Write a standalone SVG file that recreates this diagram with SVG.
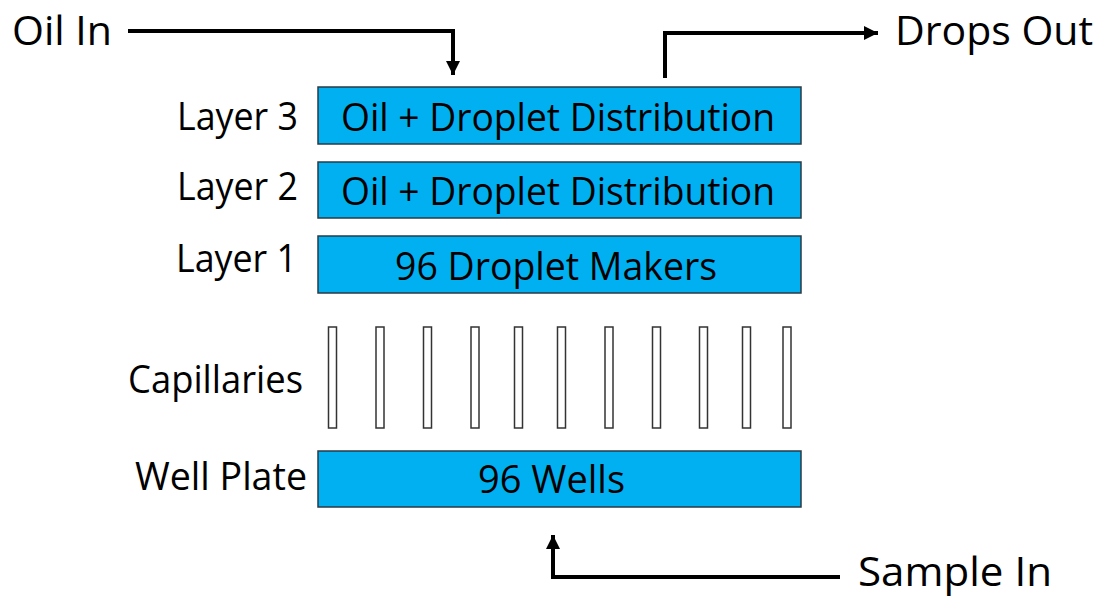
<svg xmlns="http://www.w3.org/2000/svg" width="1108" height="598" viewBox="0 0 1108 598">
<style>
.box{fill:#00B0F0;stroke:#2b3a46;stroke-width:1.5}
.cap{fill:#fff;stroke:#333;stroke-width:1.5}
text{font-family:"Open Sans","Noto Sans",sans-serif;fill:#000}
.big{font-size:41px}
.mid{font-size:38px}
.wire{fill:none;stroke:#000;stroke-width:4}
</style>
<defs>
<marker id="ah" viewBox="0 0 10 10" refX="10" refY="5" markerWidth="14" markerHeight="14" markerUnits="userSpaceOnUse" orient="auto">
<path d="M0,0 L10,5 L0,10 Z" fill="#000"/>
</marker>
</defs>
<rect width="1108" height="598" fill="#fff"/>
<g id="connectors">
<path class="wire" d="M128,31 H453 V75" marker-end="url(#ah)"/>
<path class="wire" d="M665,78 V33 H878" marker-end="url(#ah)"/>
<path class="wire" d="M840,577 H553 V535" marker-end="url(#ah)"/>
</g>
<g id="oil-in"><text class="big" x="12" y="45" textLength="100" lengthAdjust="spacingAndGlyphs">Oil In</text></g>
<g id="drops-out"><text class="big" x="895" y="45" textLength="198" lengthAdjust="spacingAndGlyphs">Drops Out</text></g>
<g id="sample-in"><text class="big" x="858" y="586" textLength="194" lengthAdjust="spacingAndGlyphs">Sample In</text></g>
<g id="layer3">
<text class="mid" x="177" y="130" textLength="121" lengthAdjust="spacingAndGlyphs">Layer 3</text>
<rect class="box" x="318" y="87" width="483" height="57"/>
<text class="mid" x="341" y="131" textLength="434" lengthAdjust="spacingAndGlyphs">Oil + Droplet Distribution</text>
</g>
<g id="layer2">
<text class="mid" x="177" y="200" textLength="121" lengthAdjust="spacingAndGlyphs">Layer 2</text>
<rect class="box" x="318" y="162" width="483" height="56"/>
<text class="mid" x="341" y="205" textLength="434" lengthAdjust="spacingAndGlyphs">Oil + Droplet Distribution</text>
</g>
<g id="layer1">
<text class="mid" x="176" y="272" textLength="121" lengthAdjust="spacingAndGlyphs">Layer 1</text>
<rect class="box" x="318" y="236" width="483" height="57"/>
<text class="mid" x="395" y="280" textLength="322" lengthAdjust="spacingAndGlyphs">96 Droplet Makers</text>
</g>
<g id="capillaries">
<text class="mid" x="128" y="393" textLength="175" lengthAdjust="spacingAndGlyphs">Capillaries</text>
<rect class="cap" x="328.5" y="327" width="8" height="101"/>
<rect class="cap" x="376" y="327" width="8" height="101"/>
<rect class="cap" x="423.5" y="327" width="8" height="101"/>
<rect class="cap" x="471" y="327" width="8" height="101"/>
<rect class="cap" x="514.5" y="327" width="8" height="101"/>
<rect class="cap" x="557.5" y="327" width="8" height="101"/>
<rect class="cap" x="605" y="327" width="8" height="101"/>
<rect class="cap" x="652.5" y="327" width="8" height="101"/>
<rect class="cap" x="699.5" y="327" width="8" height="101"/>
<rect class="cap" x="742.5" y="327" width="8" height="101"/>
<rect class="cap" x="783" y="327" width="8" height="101"/>
</g>
<g id="well-plate">
<text class="mid" x="135" y="490" textLength="172" lengthAdjust="spacingAndGlyphs">Well Plate</text>
<rect class="box" x="318" y="451" width="483" height="56"/>
<text class="mid" x="478" y="493" textLength="147" lengthAdjust="spacingAndGlyphs">96 Wells</text>
</g>
</svg>
